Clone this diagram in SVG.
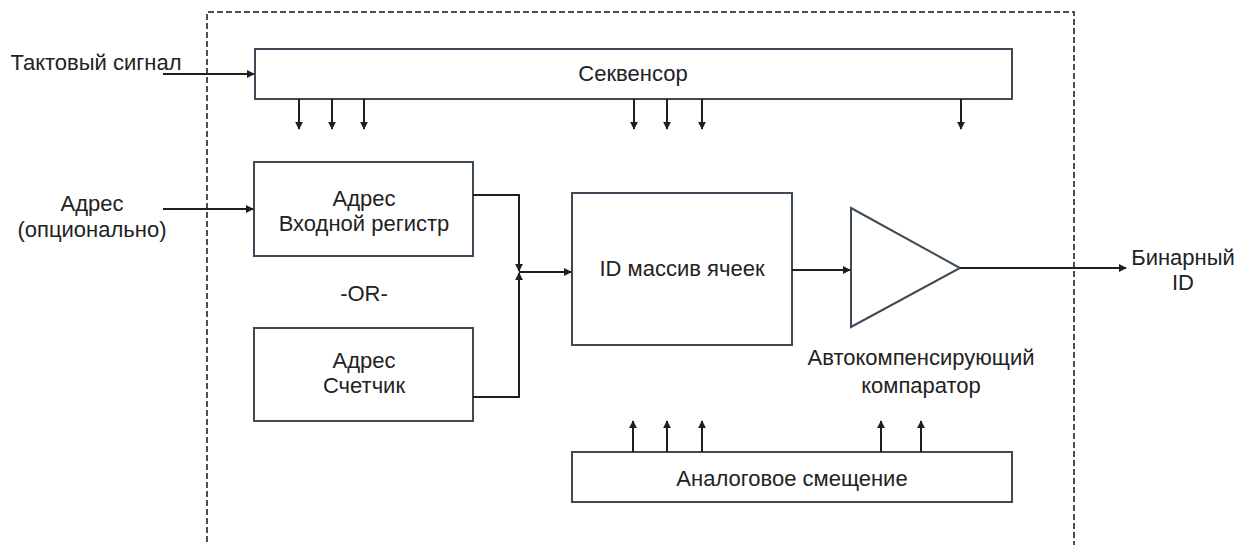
<svg xmlns="http://www.w3.org/2000/svg" width="1239" height="545" viewBox="0 0 1239 545">
<defs>
<style>
.box{fill:#fff;stroke:#3e4a55;stroke-width:2}
.frame{fill:none;stroke:#45515d;stroke-width:2;stroke-dasharray:6,3}
.wire{fill:none;stroke:#1e1e1e;stroke-width:2}
text{font-family:"Liberation Sans",Arial,sans-serif;font-size:22px;fill:#222;text-anchor:middle}
</style>
<marker id="ah" viewBox="0 0 10 10" refX="9" refY="5" markerWidth="8" markerHeight="8" markerUnits="userSpaceOnUse" orient="auto">
<path d="M0,0 L10,5 L0,10 z" fill="#1e1e1e"/>
</marker>
</defs>
<rect width="1239" height="545" fill="#fff"/>
<path class="frame" d="M207,560 V12 H1074 V560"/>

<g id="sequencer">
<rect class="box" x="255" y="49" width="757" height="50"/>
<text x="633" y="81">Секвенсор</text>
</g>
<g id="addr-register">
<rect class="box" x="254" y="162" width="219" height="94"/>
<text x="364" y="206">Адрес</text>
<text x="364" y="231">Входной регистр</text>
</g>
<text x="364" y="301">-OR-</text>
<g id="addr-counter">
<rect class="box" x="254" y="328" width="219" height="93"/>
<text x="364" y="368">Адрес</text>
<text x="364" y="393">Счетчик</text>
</g>
<g id="id-array">
<rect class="box" x="572" y="193" width="220" height="152"/>
<text x="682" y="276">ID массив ячеек</text>
</g>
<g id="comparator">
<polygon class="box" points="851,208 960,268 851,327"/>
<text x="921" y="365">Автокомпенсирующий</text>
<text x="921" y="393">компаратор</text>
</g>
<g id="analog-bias">
<rect class="box" x="572" y="452" width="440" height="50"/>
<text x="792" y="486">Аналоговое смещение</text>
</g>
<g id="labels">
<text x="96" y="70">Тактовый сигнал</text>
<text x="92" y="211">Адрес</text>
<text x="92" y="237">(опционально)</text>
<text x="1183" y="265">Бинарный</text>
<text x="1183" y="290">ID</text>
</g>

<g id="connectors">
<path class="wire" d="M163,74 H254" marker-end="url(#ah)"/>
<path class="wire" d="M163,209 H253" marker-end="url(#ah)"/>
<path class="wire" d="M299,99 V129" marker-end="url(#ah)"/>
<path class="wire" d="M332,99 V129" marker-end="url(#ah)"/>
<path class="wire" d="M364,99 V129" marker-end="url(#ah)"/>
<path class="wire" d="M634,99 V129" marker-end="url(#ah)"/>
<path class="wire" d="M667,99 V129" marker-end="url(#ah)"/>
<path class="wire" d="M702,99 V129" marker-end="url(#ah)"/>
<path class="wire" d="M961,99 V129" marker-end="url(#ah)"/>
<path class="wire" d="M473,195 H519 V271" marker-end="url(#ah)"/>
<path class="wire" d="M473,397 H519 V273" marker-end="url(#ah)"/>
<path class="wire" d="M519,272 H571" marker-end="url(#ah)"/>
<path class="wire" d="M792,270 H850" marker-end="url(#ah)"/>
<path class="wire" d="M960,268 H1126" marker-end="url(#ah)"/>
<path class="wire" d="M633,452 V421" marker-end="url(#ah)"/>
<path class="wire" d="M667,452 V421" marker-end="url(#ah)"/>
<path class="wire" d="M702,452 V421" marker-end="url(#ah)"/>
<path class="wire" d="M881,452 V421" marker-end="url(#ah)"/>
<path class="wire" d="M921,452 V421" marker-end="url(#ah)"/>
</g>
</svg>
